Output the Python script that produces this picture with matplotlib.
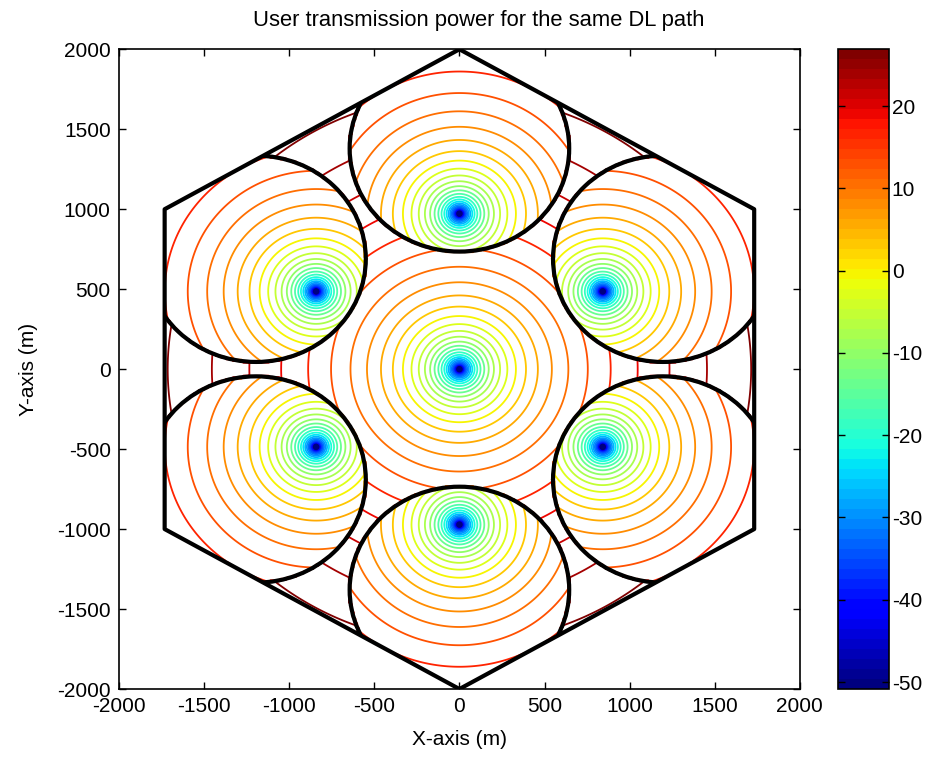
#!/usr/bin/env python3
"""Uplink transmit power map for a 7-site layout where each user follows the DL path."""
import matplotlib
matplotlib.use("Agg")
import matplotlib.pyplot as plt
import numpy as np
from matplotlib.colors import Normalize
from matplotlib.cm import ScalarMappable
from matplotlib.patches import Circle, Polygon
from matplotlib.path import Path

# base stations: centre site first, then the six surrounding sites
BS_X = [0.0, 0.0, -842.0, -842.0, 0.0, 842.0, 842.0]
BS_Y = [0.0, 972.0, 486.0, -486.0, -972.0, -486.0, 486.0]

# DL service areas of the outer sites (discs, cut by the outer hexagon)
AREA_X = [0.0, -1195.0, -1195.0, 0.0, 1195.0, 1195.0]
AREA_Y = [1380.0, 690.0, -690.0, -1380.0, -690.0, 690.0]
AREA_R = 645.0

# outer boundary of the network
HEX_X = [0.0, -1732.0, -1732.0, 0.0, 1732.0, 1732.0]
HEX_Y = [2000.0, 1000.0, -1000.0, -2000.0, -1000.0, 1000.0]

# link budget: target rx level plus 128.1 + 37.6 log10(d[km]) path loss
P_TARGET_DBM = -110.0
PL_CONST = 128.1
PL_SLOPE = 37.6

C_MIN, C_MAX = -50.85, 26.9
N_LEVELS = 30
CBAR_TICKS = [-50, -40, -30, -20, -10, 0, 10, 20]
AXIS_TICKS = [-2000, -1500, -1000, -500, 0, 500, 1000, 1500, 2000]

plt.rcParams["font.family"] = ["Liberation Sans", "DejaVu Sans"]
plt.rcParams["font.size"] = 15
plt.rcParams["axes.unicode_minus"] = False

step = 10.0
grid = np.arange(-2000.0, 2000.0 + step, step)
X, Y = np.meshgrid(grid, grid)
pts = np.column_stack([X.ravel(), Y.ravel()])

hex_path = Path(np.column_stack([HEX_X + HEX_X[:1], HEX_Y + HEX_Y[:1]]), closed=True)
inside = hex_path.contains_points(pts, radius=1.0).reshape(X.shape)

serving = np.zeros(X.shape, dtype=int)
for k, (cx, cy) in enumerate(zip(AREA_X, AREA_Y), start=1):
    serving[(X - cx) ** 2 + (Y - cy) ** 2 <= AREA_R ** 2] = k

bx = np.array(BS_X)[serving]
by = np.array(BS_Y)[serving]
dist = np.maximum(np.hypot(X - bx, Y - by), 1.0)
Z = P_TARGET_DBM + PL_CONST + PL_SLOPE * np.log10(dist / 1000.0)
Z = np.where(inside, Z, np.nan)

cmap = plt.get_cmap("jet", 64)
norm = Normalize(C_MIN, C_MAX)
levels = np.linspace(C_MIN, C_MAX, N_LEVELS)

fig = plt.figure(figsize=(9.3, 7.58), dpi=100)
ax = fig.add_axes([0.128, 0.091, 0.732, 0.844])
ax.contour(X, Y, Z, levels=levels, cmap=cmap, norm=norm, linewidths=1.3)
# the closest grid points around each site sit below the lowest level
ax.scatter(BS_X, BS_Y, s=22, color=cmap(0), edgecolors="none", zorder=3)

hex_patch = Polygon(np.column_stack([HEX_X, HEX_Y]), closed=True, fill=False,
                    edgecolor="black", linewidth=3.0, joinstyle="round", zorder=4)
ax.add_patch(hex_patch)
for cx, cy in zip(AREA_X, AREA_Y):
    disc = Circle((cx, cy), AREA_R, fill=False, edgecolor="black", linewidth=3.0, zorder=4)
    ax.add_patch(disc)
    disc.set_clip_path(hex_patch)

ax.set_xlim(-2000, 2000)
ax.set_ylim(-2000, 2000)
ax.set_xticks(AXIS_TICKS)
ax.set_yticks(AXIS_TICKS)
ax.tick_params(direction="in", top=True, right=True, length=5, width=1, pad=6)
for spine in ax.spines.values():
    spine.set_linewidth(1.2)
ax.set_xlabel("X-axis (m)", labelpad=10)
ax.set_ylabel("Y-axis (m)", labelpad=14)
ax.set_title("User transmission power for the same DL path", fontsize=15.8, pad=17, x=0.528)

cax = fig.add_axes([0.901, 0.091, 0.055, 0.844])
cb = fig.colorbar(ScalarMappable(norm=norm, cmap=cmap), cax=cax, ticks=CBAR_TICKS)
cb.outline.set_linewidth(1.2)
cax.tick_params(direction="in", left=True, right=True, length=5, width=1, pad=2)

fig.savefig("out.png", dpi=100, facecolor="white")
